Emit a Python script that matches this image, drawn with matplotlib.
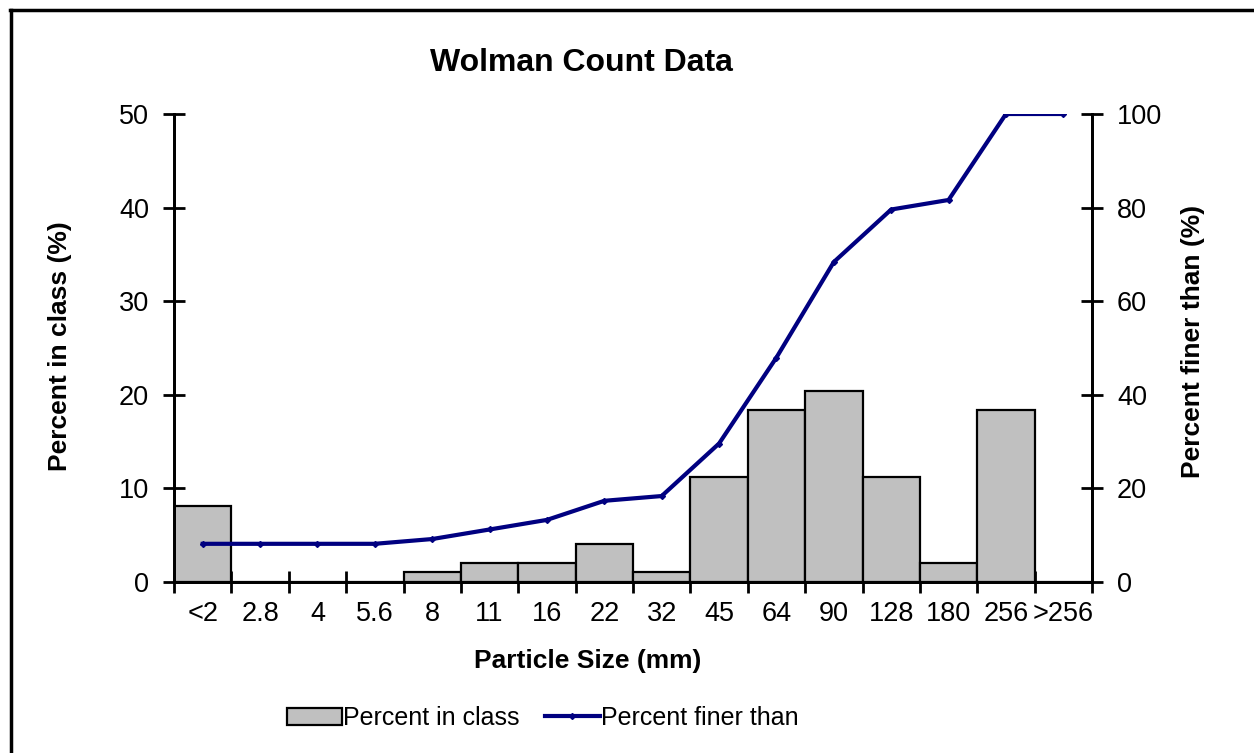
import matplotlib.pyplot as plt
import matplotlib.lines as mlines
import matplotlib.patches as mpatches
import numpy as np

plt.rcParams['font.family'] = ['Liberation Sans', 'DejaVu Sans']

# particle size classes (mm)
size_classes = ['<2', '2.8', '4', '5.6', '8', '11', '16', '22', '32', '45',
                '64', '90', '128', '180', '256', '>256']
percent_in_class = [8.16, 0, 0, 0, 1.02, 2.04, 2.04, 4.08, 1.02, 11.22,
                    18.37, 20.41, 11.22, 2.04, 18.37, 0]
percent_finer = [8.16, 8.16, 8.16, 8.16, 9.18, 11.22, 13.27, 17.35, 18.37, 29.59,
                 47.96, 68.37, 79.59, 81.63, 100, 100]

W, H = 1254, 753
fig = plt.figure(figsize=(W / 100, H / 100), dpi=100)

def px(x, y):
    return x / W, 1 - y / H

ax = fig.add_axes([174 / W, (H - 582) / H, (1092 - 174) / W, (582 - 114) / H])
x = np.arange(len(size_classes))
ax.bar(x, percent_in_class, width=1.0, color='#C0C0C0', edgecolor='black', linewidth=1.6, zorder=2)
ax.set_xlim(-0.5, len(size_classes) - 0.5)
ax.set_ylim(0, 50)
ax.set_yticks([0, 10, 20, 30, 40, 50])
ax.set_xticks(np.arange(len(size_classes) + 1) - 0.5)
ax.set_xticklabels([])
ax.set_xticks(x, minor=True)
ax.set_xticklabels(size_classes, minor=True)
ax.tick_params(axis='x', which='minor', length=0, labelsize=19.5, pad=14)
ax.tick_params(axis='both', which='major', direction='inout', length=16, width=2, labelsize=19.5)
ax.tick_params(axis='y', pad=10)
ax.spines['top'].set_visible(False)
for s in ['left', 'right', 'bottom']:
    ax.spines[s].set_linewidth(2)

ax2 = ax.twinx()
ax2.plot(x, percent_finer, color='#000080', linewidth=3, marker='D', markersize=3, zorder=3)
ax2.set_ylim(0, 100)
ax2.set_yticks([0, 20, 40, 60, 80, 100])
ax2.tick_params(axis='y', direction='inout', length=16, width=2, labelsize=19.5, pad=10)
ax2.spines['top'].set_visible(False)
for s in ['left', 'right', 'bottom']:
    ax2.spines[s].set_linewidth(2)

fig.text(*px(581, 63), 'Wolman Count Data', fontsize=23, fontweight='bold', ha='center', va='center')
fig.text(*px(588, 661), 'Particle Size (mm)', fontsize=19, fontweight='bold', ha='center', va='center')
fig.text(*px(60, 346), 'Percent in class (%)', fontsize=19, fontweight='bold', ha='center', va='center', rotation=90)
fig.text(*px(1193, 341), 'Percent finer than (%)', fontsize=19, fontweight='bold', ha='center', va='center', rotation=90)

bar_handle = mpatches.Patch(facecolor='#C0C0C0', edgecolor='black', linewidth=1.6)
line_handle = mlines.Line2D([], [], color='#000080', linewidth=3, marker='D', markersize=3)
fig.legend([bar_handle, line_handle], ['Percent in class', 'Percent finer than'],
           loc='center', bbox_to_anchor=px(543, 718), ncol=2, frameon=False,
           fontsize=18, handlelength=2.2, handleheight=0.7, handletextpad=0.05, columnspacing=1.0,
           borderpad=0, borderaxespad=0)

# outer border (top and left only visible)
fig.add_artist(mlines.Line2D([10 / W, 1], [1 - 10 / H, 1 - 10 / H], color='black', linewidth=2.5, transform=fig.transFigure))
fig.add_artist(mlines.Line2D([11 / W, 11 / W], [0, 1 - 10 / H], color='black', linewidth=2.5, transform=fig.transFigure))

fig.savefig('out.png', dpi=100)
